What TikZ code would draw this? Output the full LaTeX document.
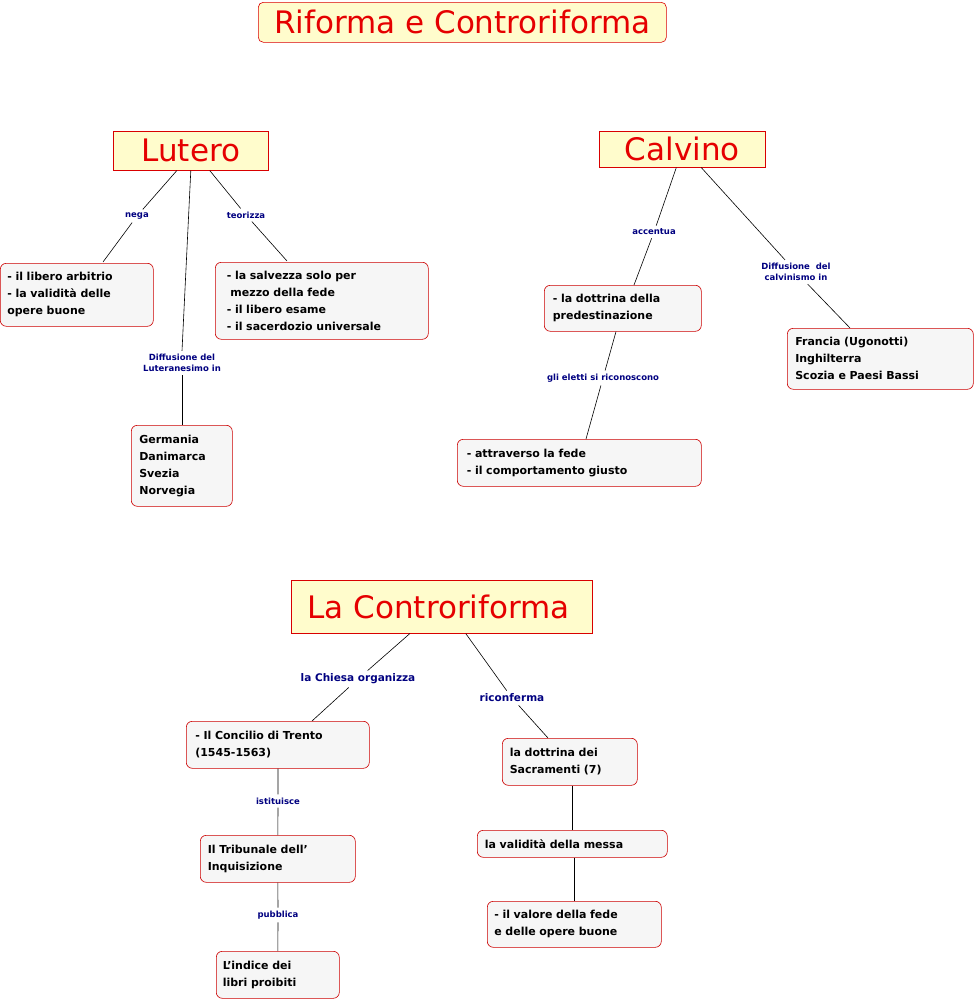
\documentclass[tikz,border=0pt]{standalone}
\usepackage{fontspec}
\setmainfont{DejaVu Sans}
\begin{document}
\begin{tikzpicture}[x=1pt,y=-1pt,
 head/.style={draw=red!85!black,fill=yellow!20,text=red!90!black,font=\fontsize{31}{34}\selectfont,inner sep=0pt,anchor=north west},
 box/.style={draw=red!80!black,fill=cyan!4!gray!8,rounded corners=6pt,font=\bfseries\fontsize{11}{17}\selectfont,align=left,inner sep=0pt,anchor=north west},
 lbl/.style={text=blue!50!black,font=\bfseries\fontsize{8.5}{11}\selectfont,align=center,inner sep=3pt},
 lblb/.style={text=blue!50!black,font=\bfseries\fontsize{10.5}{12}\selectfont,inner sep=3pt},
 every path/.style={line width=0.6pt}]
\useasboundingbox (0,0) rectangle (976,1001);
\node[head,rounded corners=5pt,minimum width=408,minimum height=40] (T) at (258,2) {Riforma e Controriforma};
\node[head,minimum width=155,minimum height=39] (L) at (113,131) {Lutero};
\node[head,minimum width=166,minimum height=36] (C) at (599,131) {Calvino};
\node[head,minimum width=301,minimum height=53,text width=290,align=left] (CF) at (291,580) {\ La Controriforma};
\node[box,minimum width=153,minimum height=63,text width=145] (n1) at (0,263) {\hspace*{3pt}- il libero arbitrio\\\hspace*{3pt}- la validità delle\\\hspace*{3pt}opere buone};
\node[box,minimum width=213,minimum height=77,text width=200] (n2) at (215,262) {\hspace*{5pt}- la salvezza solo per\\\hspace*{5pt} mezzo della fede\\\hspace*{5pt}- il libero esame\\\hspace*{5pt}- il sacerdozio universale};
\node[box,minimum width=101,minimum height=81,text width=95] (n3) at (131,425) {\hspace*{5pt}Germania\\\hspace*{5pt}Danimarca\\\hspace*{5pt}Svezia\\\hspace*{5pt}Norvegia};
\node[box,minimum width=157,minimum height=46,text width=150] (c1) at (544,285) {\hspace*{5pt}- la dottrina della\\\hspace*{5pt}predestinazione};
\node[box,minimum width=244,minimum height=47,text width=235] (c2) at (457,439) {\hspace*{5pt}- attraverso la fede\\\hspace*{5pt}- il comportamento giusto};
\node[box,minimum width=186,minimum height=61,text width=180] (c3) at (787,328) {\hspace*{5pt}Francia (Ugonotti)\\\hspace*{5pt}Inghilterra\\\hspace*{5pt}Scozia e Paesi Bassi};
\node[box,minimum width=183,minimum height=47,text width=175] (f1) at (186,721) {\hspace*{5pt}- Il Concilio di Trento\\\hspace*{5pt}(1545-1563)};
\node[box,minimum width=155,minimum height=47,text width=150] (f2) at (200,835) {\hspace*{5pt}Il Tribunale dell'\\\hspace*{5pt}Inquisizione};
\node[box,minimum width=123,minimum height=47,text width=120] (f3) at (216,951) {\hspace*{5pt}L'indice dei\\\hspace*{5pt}libri proibiti};
\node[box,minimum width=135,minimum height=47,text width=130] (g1) at (502,738) {\hspace*{5pt}la dottrina dei\\\hspace*{5pt}Sacramenti (7)};
\node[box,minimum width=190,minimum height=27,text width=185] (g2) at (477,830) {\hspace*{5pt}la validità della messa};
\node[box,minimum width=174,minimum height=46,text width=170] (g3) at (487,901) {\hspace*{5pt}- il valore della fede\\\hspace*{5pt}e delle opere buone};
% labels
\node[lbl] (a1) at (137,216) {nega};
\node[lbl] (a2) at (246,215) {teorizza};
\node[lbl] (a3) at (182,363) {Diffusione del\\Luteranesimo in};
\node[lbl] (b1) at (654,232) {accentua};
\node[lbl] (b2) at (796,272) {Diffusione\ \ del\\calvinismo in};
\node[lbl] (b3) at (603,378) {gli eletti si riconoscono};
\node[lblb] (d1) at (358,679) {la Chiesa organizza};
\node[lblb] (d2) at (512,698) {riconferma};
\node[lbl] (e1) at (278,801) {istituisce};
\node[lbl] (e2) at (278,915) {pubblica};
% connectors
\draw ([xshift=-14pt]L.south) -- (a1) -- (103,262) coordinate (p1);
\draw ([xshift=19pt]L.south) -- (a2) -- (287,261) coordinate (p2);
\draw ([xshift=0pt]L.south) -- (a3.north) ;
\draw (a3) -- (n3.north -| 182,0);
\draw ([xshift=-6pt]C.south) -- (b1) -- (c1.north -| 634,0);
\draw ([xshift=19pt]C.south) -- (b2) -- (c3.north -| 850,0);
\draw (c1.south -| 616,0) -- (b3) -- (c2.north -| 586,0);
\draw ([xshift=-32pt]CF.south) -- (d1) -- (f1.north -| 312,0);
\draw ([xshift=24pt]CF.south) -- (d2) -- (g1.north -| 548,0);
\draw (f1.south -| 278,0) -- (e1) -- (f2);
\draw (f2) -- (e2) -- (f3);
\draw (g1.south -| 572,0) -- (g2.north -| 572,0);
\draw (g2.south -| 574,0) -- (g3.north -| 574,0);
\end{tikzpicture}
\end{document}
